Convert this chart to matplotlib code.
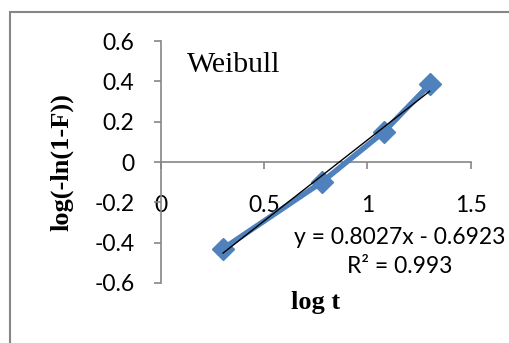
import numpy as np
import matplotlib.pyplot as plt
from matplotlib.patches import Rectangle

log_t = [0.301, 0.778, 1.079, 1.301]
log_lnF = [-0.43, -0.10, 0.15, 0.385]
x_ticks = [0, 0.5, 1, 1.5]
y_ticks = [-0.6, -0.4, -0.2, 0, 0.2, 0.4, 0.6]

grey = '#868686'
blue = '#4F81BD'

fig = plt.figure(figsize=(5.09, 3.43), dpi=100)
ax = fig.add_axes([0.316, 0.175, 0.609, 0.705])

# outer chart frame (cut off on the right and bottom)
fig.patches.append(Rectangle((10/509, -0.1), 1.2, 1 - 12/343 + 0.1, transform=fig.transFigure,
                             fill=False, edgecolor=grey, lw=1.5))

ax.plot(log_t, log_lnF, color=blue, lw=4, marker='D', markersize=11.5,
        markerfacecolor=blue, markeredgecolor=blue, zorder=3)

# linear trendline
k, b = np.polyfit(log_t, log_lnF, 1)
xs = np.array([log_t[0], log_t[-1]])
ax.plot(xs, k * xs + b, color='black', lw=1, zorder=4)

ax.set_xlim(0, 1.5)
ax.set_ylim(-0.6, 0.6)
ax.set_xticks(x_ticks)
ax.set_xticklabels(['0', '0.5', '1', '1.5'])
ax.set_yticks(y_ticks)
ax.set_yticklabels(['-0.6', '-0.4', '-0.2', '0', '0.2', '0.4', '0.6'])

ax.spines['top'].set_visible(False)
ax.spines['right'].set_visible(False)
ax.spines['bottom'].set_position(('data', 0))
for s in ['left', 'bottom']:
    ax.spines[s].set_color(grey)
    ax.spines[s].set_linewidth(1.2)

ax.tick_params(axis='both', colors=grey, labelcolor='black', length=5, width=1.2,
               labelsize=16.5)
ax.tick_params(axis='x', pad=19)
ax.tick_params(axis='y', pad=14)
for lab in ax.get_xticklabels() + ax.get_yticklabels():
    lab.set_family('Lato')

ax.patch.set_alpha(0)
ax.text(0.125, 0.48, 'Weibull', family='Liberation Serif', fontsize=21.5, va='center')
ax.text(1.155, -0.445, 'y = 0.8027x - 0.6923\nR² = 0.993', family='Lato', fontsize=16.5,
        ha='center', va='center', linespacing=1.45)

fig.text(62/509, 1 - 162/343, 'log(-ln(1-F))', family='Liberation Serif', weight='bold',
         fontsize=19, rotation=90, ha='center', va='center')
fig.text(316/509, 1 - 303/343, 'log t', family='Liberation Serif', weight='bold',
         fontsize=19, ha='center', va='center')

fig.savefig('out.png', dpi=100)
